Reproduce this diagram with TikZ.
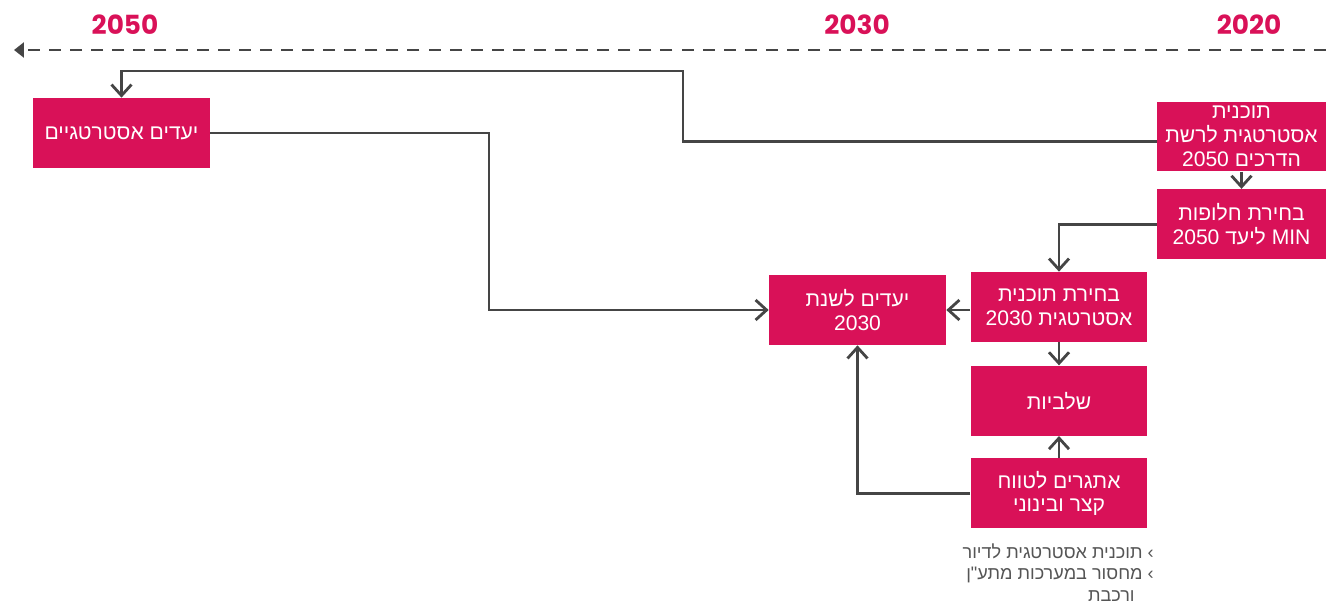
\documentclass[tikz,border=0pt]{standalone}
\usepackage{fontspec}
\TeXXeTstate=1
\newfontfamily\hebfont[Script=Hebrew,Ligatures=TeXOff]{Liberation Sans}
\newfontfamily\yearfont{Poppins}
\usetikzlibrary{arrows.meta,positioning}
\definecolor{planpink}{HTML}{D91158}
\definecolor{linegray}{HTML}{454545}
\definecolor{notegray}{HTML}{555555}
\newcommand{\heb}[1]{\beginR#1\endR}
\newcommand{\ltr}[1]{\beginL#1\endL{}}
\tikzstyle{stage}=[rectangle, fill=planpink, text=white, align=center,
  font=\hebfont\fontsize{12}{13.6}\selectfont,
  minimum width=3.54cm, minimum height=1.4cm, inner sep=1pt]
\tikzstyle{arrow}=[-{Straight Barb[length=2.2mm,width=4mm]}, line width=1.6pt, draw=linegray]
\tikzstyle{year}=[font=\yearfont\bfseries\fontsize{15}{18}\selectfont, text=planpink]
\begin{document}
\begin{tikzpicture}[x=0.02cm, y=-0.02cm, node distance=0.46cm,
  note/.style={align=right,text=notegray,font=\hebfont\fontsize{10.3}{12.3}\selectfont,inner sep=0pt}]
\useasboundingbox (0,0) rectangle (1326,605);
% time axis
\coordinate (axisR) at (1326,50);
\coordinate (axisL) at (14,50);
\draw[line width=1.7pt, draw=linegray, dash pattern=on 6.8pt off 5.2pt,
  -{Triangle[length=2mm,width=3mm]}] (axisR) -- (axisL);
\node[year] (y2050) at (125,25) {2050};
\node[year] (y2030) at (857,25) {2030};
\node[year] (y2020) at (1249,25) {2020};
% stages
\node[stage] (goals) at (121.5,133) {\heb{יעדים אסטרטגיים}};
\node[stage,minimum width=3.38cm] (plan50) at (1241.5,136.5)
  {\heb{תוכנית}\\\heb{אסטרטגית לרשת}\\\heb{הדרכים \ltr{2050}}};
\node[stage,minimum width=3.38cm,below=0.34cm of plan50] (alts)
  {\heb{בחירת חלופות}\\\heb{\ltr{MIN} ליעד \ltr{2050}}};
\node[stage] (goals30) at (857.5,310) {\heb{יעדים לשנת}\\\ltr{2030}};
\node[stage] (plan30) at (1059,307) {\heb{בחירת תוכנית}\\\heb{אסטרטגית \ltr{2030}}};
\node[stage,below=of plan30] (phase) {\heb{שלביות}};
\node[stage,below=0.44cm of phase] (chal) {\heb{אתגרים לטווח}\\\heb{קצר ובינוני}};
\node[note,anchor=north east] (notes) at (1154,543)
  {\heb{› תוכנית אסטרטגית לדיור}\\\heb{› מחסור במערכות מתע"ן}\\\heb{\hspace{1.05em}ורכבת}};
% connectors
\draw[arrow] ([yshift=-0.1cm]plan50.west) -| (683,71) -| (goals.north);
\draw[arrow] (plan50) -- (alts);
\draw[arrow] (alts.west) -| (plan30.north);
\draw[arrow] (goals.east) -| (489,310) -- (goals30.west);
\draw[arrow] (plan30.west |- goals30.east) -- (goals30.east);
\draw[arrow] (plan30) -- (phase);
\draw[arrow] (chal) -- (phase);
\draw[arrow] (chal.west) -| (goals30.south);
\end{tikzpicture}
\end{document}
